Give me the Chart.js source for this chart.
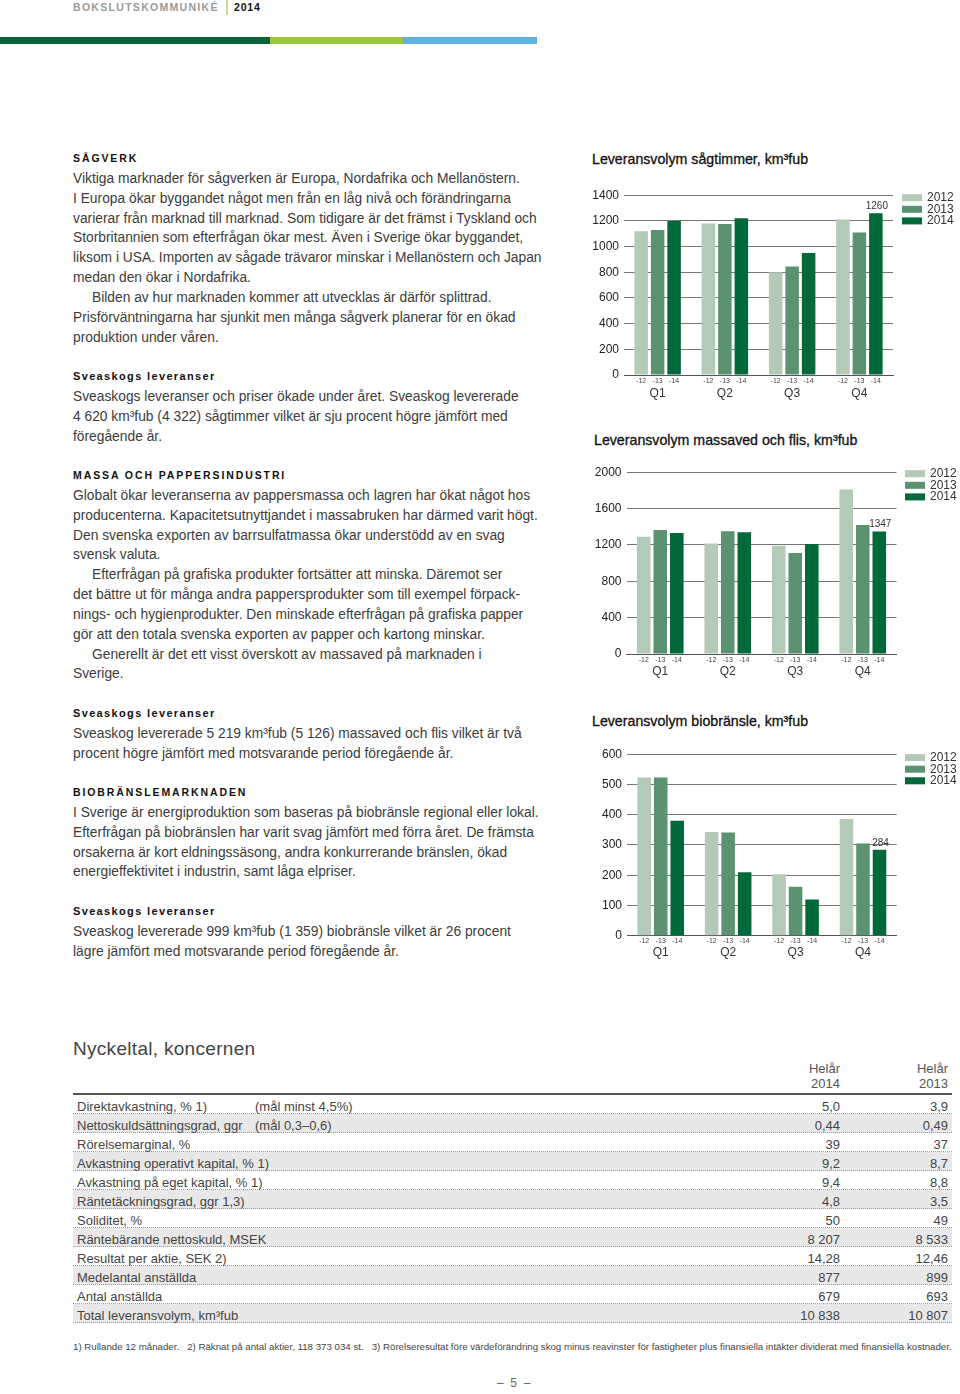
<!DOCTYPE html>
<html lang="sv">
<head>
<meta charset="utf-8">
<title>Bokslutskommuniké 2014 – sid 5</title>
<script src="https://cdn.jsdelivr.net/npm/chart.js@4.4.1/dist/chart.umd.min.js"></script>
<style>
  html, body { margin: 0; padding: 0; background: #fff; }
  body { width: 960px; height: 1394px; position: relative; overflow: hidden;
         font-family: 'Liberation Sans', Arial, sans-serif; color: #3c3c3c; }
  .abs { position: absolute; }
  .brand { left: 73px; top: 1px; font-size: 10.5px; font-weight: bold; letter-spacing: 1.3px; color: #9a9a9a; }
  .brand-sep { left: 226px; top: 0; width: 1.5px; height: 15px; background: #cddb93; }
  .brand-year { left: 234px; top: 1px; font-size: 10.5px; font-weight: bold; letter-spacing: 0.8px; color: #111; }
  .strip { top: 37px; height: 7px; }
  .block { left: 73px; font-size: 13.8px; line-height: 19.85px; white-space: nowrap; }
  .block .ind { padding-left: 19px; }
  .h-caps { font-size: 10.5px; font-weight: bold; letter-spacing: 1.9px; color: #111; }
  .h-sub { font-size: 11px; font-weight: bold; letter-spacing: 1.35px; color: #111; }
  .ctitle { font-size: 14.2px; color: #111; -webkit-text-stroke: 0.3px #111; white-space: nowrap; }
  canvas.chart { position: absolute; }
  .ttitle { left: 73px; top: 1038px; font-size: 19px; letter-spacing: 0.3px; color: #444; }
  .thead { top: 1061px; font-size: 13px; line-height: 15px; color: #555; text-align: right; }
  #keytable { left: 73px; top: 1093px; width: 879px; border-top: 2px solid #555; }
  .trow { position: relative; height: 18px; border-bottom: 1px dotted #9a9a9a; font-size: 13px; color: #444; }
  .trow.shade { background: #e8e8e8; }
  .trow span { position: absolute; top: 4px; line-height: 15px; white-space: nowrap; }
  .foot { left: 73px; top: 1341px; font-size: 9.7px; color: #444; white-space: nowrap; }
  .pnum { left: 497px; top: 1376px; font-size: 12px; color: #666; }
</style>
</head>
<body>

<div class="abs brand">BOKSLUTSKOMMUNIKÉ</div>
<div class="abs brand-sep"></div>
<div class="abs brand-year">2014</div>
<div class="abs strip" style="left:0;width:270px;background:#076436"></div>
<div class="abs strip" style="left:270px;width:133px;background:#9cc641"></div>
<div class="abs strip" style="left:403px;width:134px;background:#5cb3e1"></div>

<div class="abs block" style="top:149px">
  <div class="h-caps">SÅGVERK</div>
  <div>Viktiga marknader för sågverken är Europa, Nordafrika och Mellanöstern.</div>
  <div>I Europa ökar byggandet något men från en låg nivå och förändringarna</div>
  <div>varierar från marknad till marknad. Som tidigare är det främst i Tyskland och</div>
  <div>Storbritannien som efterfrågan ökar mest. Även i Sverige ökar byggandet,</div>
  <div>liksom i USA. Importen av sågade trävaror minskar i Mellanöstern och Japan</div>
  <div>medan den ökar i Nordafrika.</div>
  <div class="ind">Bilden av hur marknaden kommer att utvecklas är därför splittrad.</div>
  <div>Prisförväntningarna har sjunkit men många sågverk planerar för en ökad</div>
  <div>produktion under våren.</div>
</div>

<div class="abs block" style="top:367px">
  <div class="h-sub">Sveaskogs leveranser</div>
  <div>Sveaskogs leveranser och priser ökade under året. Sveaskog levererade</div>
  <div>4 620 km³fub (4 322) sågtimmer vilket är sju procent högre jämfört med</div>
  <div>föregående år.</div>
</div>

<div class="abs block" style="top:466px">
  <div class="h-caps">MASSA OCH PAPPERSINDUSTRI</div>
  <div>Globalt ökar leveranserna av pappersmassa och lagren har ökat något hos</div>
  <div>producenterna. Kapacitetsutnyttjandet i massabruken har därmed varit högt.</div>
  <div>Den svenska exporten av barrsulfatmassa ökar understödd av en svag</div>
  <div>svensk valuta.</div>
  <div class="ind">Efterfrågan på grafiska produkter fortsätter att minska. Däremot ser</div>
  <div>det bättre ut för många andra pappersprodukter som till exempel förpack-</div>
  <div>nings- och hygienprodukter. Den minskade efterfrågan på grafiska papper</div>
  <div>gör att den totala svenska exporten av papper och kartong minskar.</div>
  <div class="ind">Generellt är det ett visst överskott av massaved på marknaden i</div>
  <div>Sverige.</div>
</div>

<div class="abs block" style="top:704px">
  <div class="h-sub">Sveaskogs leveranser</div>
  <div>Sveaskog levererade 5 219 km³fub (5 126) massaved och flis vilket är två</div>
  <div>procent högre jämfört med motsvarande period föregående år.</div>
</div>

<div class="abs block" style="top:783px">
  <div class="h-caps">BIOBRÄNSLEMARKNADEN</div>
  <div>I Sverige är energiproduktion som baseras på biobränsle regional eller lokal.</div>
  <div>Efterfrågan på biobränslen har varit svag jämfört med förra året. De främsta</div>
  <div>orsakerna är kort eldningssäsong, andra konkurrerande bränslen, ökad</div>
  <div>energieffektivitet i industrin, samt låga elpriser.</div>
</div>

<div class="abs block" style="top:902px">
  <div class="h-sub">Sveaskogs leveranser</div>
  <div>Sveaskog levererade 999 km³fub (1 359) biobränsle vilket är 26 procent</div>
  <div>lägre jämfört med motsvarande period föregående år.</div>
</div>

<div class="abs ctitle" style="left:592px;top:151px">Leveransvolym sågtimmer, km³fub</div>
<canvas id="chartSag" class="chart" width="375" height="227" style="left:585px;top:183px"></canvas>

<div class="abs ctitle" style="left:594px;top:432px">Leveransvolym massaved och flis, km³fub</div>
<canvas id="chartMassa" class="chart" width="375" height="230" style="left:585px;top:460px"></canvas>

<div class="abs ctitle" style="left:592px;top:713px">Leveransvolym biobränsle, km³fub</div>
<canvas id="chartBio" class="chart" width="375" height="230" style="left:585px;top:742px"></canvas>

<div class="abs ttitle">Nyckeltal, koncernen</div>
<div class="abs thead" style="left:780px;width:60px">Helår<br>2014</div>
<div class="abs thead" style="left:888px;width:60px">Helår<br>2013</div>
<div class="abs" id="keytable"></div>

<div class="abs foot">1) Rullande 12 månader.&nbsp;&nbsp; 2) Räknat på antal aktier, 118 373 034 st.&nbsp;&nbsp; 3) Rörelseresultat före värdeförändring skog minus reavinster för fastigheter plus finansiella intäkter dividerat med finansiella kostnader.</div>
<div class="abs pnum">–&nbsp; 5 &nbsp;–</div>

<script>
// kvartal och år
const quarters = ['Q1', 'Q2', 'Q3', 'Q4'];
const years = ['2012', '2013', '2014'];
const yearTicks = ['-12', '-13', '-14'];
const yearColors = ['#b3cab6', '#5b9371', '#00693a'];

// leveransvolym sågtimmer, km3fub
const sag2012 = [1120, 1180, 800, 1210];
const sag2013 = [1130, 1175, 845, 1110];
const sag2014 = [1200, 1220, 950, 1260];

// leveransvolym massaved och flis, km3fub
const massa2012 = [1290, 1215, 1190, 1810];
const massa2013 = [1365, 1350, 1110, 1420];
const massa2014 = [1330, 1340, 1210, 1347];

// leveransvolym biobränsle, km3fub
const bio2012 = [523, 343, 203, 386];
const bio2013 = [523, 341, 162, 305];
const bio2014 = [380, 210, 120, 284];

// nyckeltal
const keyLabels = ['Direktavkastning, % 1)', 'Nettoskuldsättningsgrad, ggr', 'Rörelsemarginal, %',
  'Avkastning operativt kapital, % 1)', 'Avkastning på eget kapital, % 1)', 'Räntetäckningsgrad, ggr 1,3)',
  'Soliditet, %', 'Räntebärande nettoskuld, MSEK', 'Resultat per aktie, SEK 2)', 'Medelantal anställda',
  'Antal anställda', 'Total leveransvolym, km³fub'];
const keyNotes = ['(mål minst 4,5%)', '(mål 0,3–0,6)', '', '', '', '', '', '', '', '', '', ''];
const key2014 = ['5,0', '0,44', '39', '9,2', '9,4', '4,8', '50', '8 207', '14,28', '877', '679', '10 838'];
const key2013 = ['3,9', '0,49', '37', '8,7', '8,8', '3,5', '49', '8 533', '12,46', '899', '693', '10 807'];

const FONT = "'Liberation Sans', Arial, sans-serif";

// år-etiketter under staplarna + värdet på sista stapeln
const barExtras = {
    id: 'barExtras',
    afterDatasetsDraw(chart, args, opts) {
        const ctx = chart.ctx;
        const bottom = chart.chartArea.bottom;
        ctx.save();
        ctx.textAlign = 'center';
        ctx.textBaseline = 'middle';
        ctx.font = '7px ' + FONT;
        ctx.fillStyle = '#444';
        chart.data.datasets.forEach((ds, i) => {
            chart.getDatasetMeta(i).data.forEach((bar) => {
                ctx.fillText(yearTicks[i], bar.x, bottom + opts.subOffset);
            });
        });
        const last = chart.data.datasets.length - 1;
        const idx = chart.data.labels.length - 1;
        const bar = chart.getDatasetMeta(last).data[idx];
        ctx.font = '10px ' + FONT;
        ctx.fillStyle = '#333';
        ctx.textBaseline = 'bottom';
        ctx.fillText(String(chart.data.datasets[last].data[idx]), bar.x + 1, bar.y - 2);
        ctx.restore();
    }
};

// legend till höger om diagrammet
const sideLegend = {
    id: 'sideLegend',
    afterDraw(chart, args, opts) {
        const ctx = chart.ctx;
        const x = chart.chartArea.right + opts.dx;
        ctx.save();
        ctx.font = '12px ' + FONT;
        ctx.textBaseline = 'middle';
        ctx.textAlign = 'left';
        chart.data.datasets.forEach((ds, i) => {
            const y = chart.chartArea.top + opts.dy + i * 11.6;
            ctx.fillStyle = ds.backgroundColor;
            ctx.fillRect(x, y - 3.5, 20, 7);
            ctx.fillStyle = '#333';
            ctx.fillText(ds.label, x + 25, y);
        });
        ctx.restore();
    }
};

function makeChart(id, series, yMax, yStep, g) {
    return new Chart(document.getElementById(id), {
        type: 'bar',
        data: {
            labels: quarters,
            datasets: series.map((data, i) => ({
                label: years[i],
                data: data,
                backgroundColor: yearColors[i],
                borderWidth: 0,
                categoryPercentage: 0.735,
                barPercentage: 0.82
            }))
        },
        options: {
            responsive: false,
            animation: false,
            layout: { padding: { top: g.padTop, right: g.padRight, left: 0, bottom: 0 } },
            plugins: {
                legend: { display: false },
                tooltip: { enabled: false },
                barExtras: { subOffset: g.sub },
                sideLegend: { dx: g.dx, dy: g.dy }
            },
            scales: {
                x: {
                    grid: { display: false, drawTicks: false },
                    border: { display: true, color: '#555', width: 1 },
                    ticks: { padding: g.qPad, color: '#333', font: { family: FONT, size: 12 } },
                    afterFit(scale) { scale.height = g.xHeight; }
                },
                y: {
                    min: 0,
                    max: yMax,
                    ticks: {
                        stepSize: yStep,
                        padding: 5,
                        color: '#222',
                        font: { family: FONT, size: 12 },
                        callback: (value) => String(value)
                    },
                    grid: { color: '#777', lineWidth: 1, drawTicks: false },
                    border: { display: false },
                    afterFit(scale) { scale.width = g.yWidth; }
                }
            }
        },
        plugins: [barExtras, sideLegend]
    });
}

makeChart('chartSag', [sag2012, sag2013, sag2014], 1400, 200,
    { padTop: 10, padRight: 67, yWidth: 39, xHeight: 35, sub: 6, qPad: 11, dx: 9, dy: 2.5 });
makeChart('chartMassa', [massa2012, massa2013, massa2014], 2000, 400,
    { padTop: 11.7, padRight: 63.5, yWidth: 41.5, xHeight: 36, sub: 6, qPad: 10.5, dx: 8.5, dy: 1.5 });
makeChart('chartBio', [bio2012, bio2013, bio2014], 600, 100,
    { padTop: 11.3, padRight: 63.3, yWidth: 42, xHeight: 36.3, sub: 5.5, qPad: 10, dx: 8.3, dy: 3.4 });

// tabell med nyckeltal
const table = document.getElementById('keytable');
keyLabels.forEach((label, i) => {
    const row = document.createElement('div');
    row.className = 'trow' + (i % 2 === 1 ? ' shade' : '');
    const cells = [
        [label, 'left:4px'],
        [keyNotes[i], 'left:182px'],
        [key2014[i], 'right:112px'],
        [key2013[i], 'right:4px']
    ];
    cells.forEach(([text, pos]) => {
        const span = document.createElement('span');
        span.textContent = text;
        span.setAttribute('style', pos);
        row.appendChild(span);
    });
    table.appendChild(row);
});
</script>
</body>
</html>
